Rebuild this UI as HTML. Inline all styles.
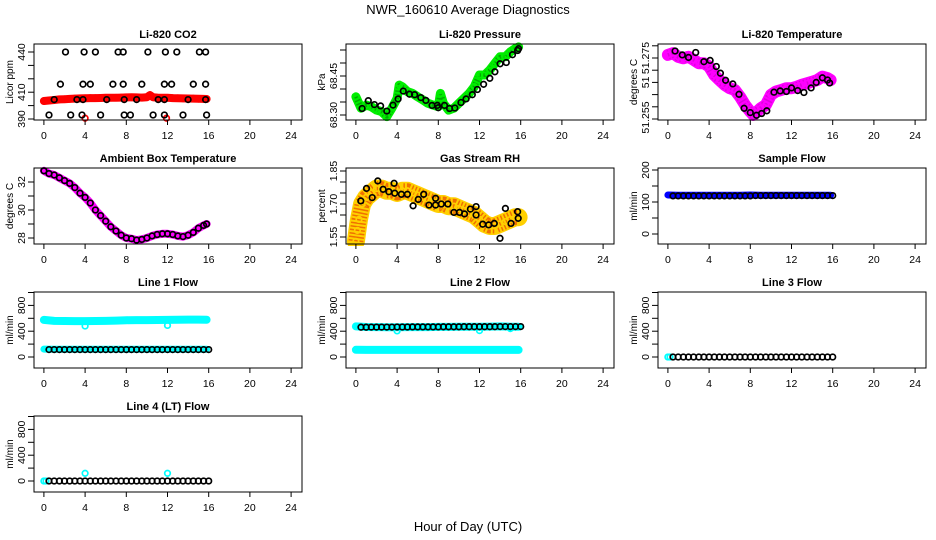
<!DOCTYPE html>
<html><head><meta charset="utf-8"><style>
html,body{margin:0;padding:0;background:#fff;}
svg{display:block;font-family:"Liberation Sans",Arial,sans-serif;}
</style></head><body>
<svg id="chart" width="936" height="540" viewBox="0 0 936 540" xmlns="http://www.w3.org/2000/svg">
<text x="468" y="14" text-anchor="middle" font-size="13">NWR_160610  Average Diagnostics</text>
<text x="468" y="531" text-anchor="middle" font-size="13">Hour of Day (UTC)</text>
</svg>
<script>
// ---------- data ----------
const xTickLabels = [0,4,8,12,16,20,24];
// CO2
const co2RedT = [0,0.5,1,1.5,2,2.5,3,3.5,4,4.5,5,5.5,6,6.5,7,7.5,8,8.5,9,9.5,10,10.3,10.6,11,11.5,12,12.5,13,13.5,14,14.5,15,15.5,15.8];
const co2RedV = [403.4,403.8,404.2,404.6,404.8,405,405.2,405.4,405.5,405.6,405.6,405.7,405.8,405.8,405.9,406,406.1,406.2,406.1,406,406.3,407.8,406.2,406,405.8,405.8,405.6,405.5,405.4,405.3,405.2,405.1,405,404.9];
const co2RedOutT = [4.0,11.9];
const co2RedOutV = [390.6,390.6];
const co2BlackT = [2.1,3.9,5.0,7.2,7.7,10.1,11.8,12.9,15.1,15.7, 1.6,3.8,4.5,6.7,7.7,9.5,11.7,12.4,14.5,15.7, 1.0,3.2,3.8,6.1,7.8,9.0,11.1,11.7,14.0,15.7, 0.5,2.6,3.7,5.5,7.8,8.4,10.6,11.7,13.5,15.8];
const co2BlackV = [440,440,440,440,440,440,440,440,440,440, 416,416,416,416,416,416,416,416,416,416, 404.5,404.5,404.5,404.5,404.5,404.5,404.5,404.5,404.5,404.5, 393,393,393,393,393,393,393,393,393,393];
// Pressure
const presT = [0,0.5,1,1.5,2,2.5,3,3.5,4,4.2,4.5,5,5.5,6,6.5,7,7.5,8,8.2,8.5,9,9.5,10,10.5,11,11.5,12,12.5,13,13.5,14,14.5,15,15.5,15.8];
const presV = [68.370,68.326,68.338,68.332,68.319,68.313,68.294,68.326,68.364,68.415,68.409,68.390,68.383,68.370,68.358,68.345,68.338,68.332,68.383,68.345,68.319,68.326,68.345,68.364,68.383,68.409,68.454,68.454,68.473,68.499,68.524,68.524,68.543,68.556,68.562];
const presBlackT = [0.6,1.2,1.8,2.4,3.0,3.6,4.1,4.6,5.2,5.7,6.3,6.8,7.4,7.9,8.0,8.6,9.1,9.6,10.2,10.7,11.3,11.8,12.4,13.0,13.5,14.0,14.6,15.2,15.7,15.8];
const presBlackV = [68.325,68.355,68.340,68.335,68.315,68.338,68.362,68.392,68.380,68.378,68.367,68.356,68.337,68.337,68.328,68.337,68.325,68.327,68.348,68.362,68.378,68.398,68.418,68.441,68.466,68.497,68.502,68.532,68.548,68.555];
// Temperature
const tempT = [0,0.5,1,1.5,2,2.5,3,3.5,4,4.5,5,5.5,6,6.5,7,7.5,8,8.3,8.5,9,9.5,10,10.5,11,11.5,12,12.5,13,13.5,14,14.5,15,15.5,15.8];
const tempV = [51.2760,51.2766,51.2754,51.2749,51.2754,51.2744,51.2733,51.2733,51.2722,51.2694,51.2678,51.2662,51.2651,51.2645,51.2623,51.2596,51.2574,51.2563,51.2569,51.2585,51.2596,51.2629,51.2640,51.2645,51.2651,51.2651,51.2656,51.2662,51.2667,51.2672,51.2678,51.2689,51.2684,51.2678];
const tempBlackT = [0.7,1.4,2.0,2.7,3.5,4.1,4.7,5.1,5.6,6.3,6.9,7.4,8.0,8.6,9.1,9.6,10.3,10.9,11.5,12.0,12.6,13.2,13.9,14.4,15.0,15.5,15.7];
const tempBlackV = [51.2773,51.2760,51.2752,51.2768,51.2738,51.2742,51.2722,51.2700,51.2677,51.2665,51.2631,51.2585,51.2571,51.2562,51.2568,51.2577,51.2638,51.2642,51.2640,51.2652,51.2643,51.2637,51.2652,51.2670,51.2685,51.2678,51.2668];
// Ambient
const ambT = [0,0.5,1,1.5,2,2.5,3,3.5,4,4.5,5,5.5,6,6.5,7,7.5,8,8.5,9,9.5,10,10.5,11,11.5,12,12.5,13,13.5,14,14.5,15,15.5,15.8];
const ambV = [32.8,32.6,32.5,32.3,32.1,31.9,31.6,31.2,30.9,30.5,30.0,29.6,29.2,28.8,28.5,28.2,28.0,27.95,27.85,27.9,28.0,28.15,28.25,28.3,28.3,28.25,28.15,28.1,28.2,28.4,28.7,28.9,29.0];
// RH
const rhT = [0,0.15,0.3,0.6,1,1.5,2,2.5,3,3.5,4,4.5,5,5.5,6,6.5,7,7.5,8,8.5,9,9.5,10,10.5,11,11.5,12,12.5,13,13.5,14,14.5,15,15.5,15.8];
const rhV = [1.53,1.58,1.63,1.70,1.73,1.75,1.77,1.77,1.76,1.76,1.75,1.76,1.76,1.75,1.74,1.73,1.72,1.71,1.70,1.70,1.69,1.69,1.68,1.67,1.66,1.65,1.63,1.61,1.60,1.60,1.61,1.62,1.63,1.64,1.64];
const rhBlackT = [0.48,1.03,1.58,2.13,2.64,3.19,3.71,3.77,4.42,5.0,5.55,6.06,6.58,7.09,7.74,7.74,8.29,8.93,9.51,10.06,10.54,11.12,11.67,11.67,12.31,12.89,13.44,13.99,14.51,15.06,15.70,15.76];
const rhBlackV = [1.714,1.771,1.729,1.805,1.767,1.756,1.794,1.749,1.744,1.744,1.692,1.721,1.744,1.695,1.695,1.726,1.700,1.700,1.662,1.662,1.655,1.677,1.688,1.650,1.608,1.605,1.612,1.544,1.680,1.612,1.665,1.635];
// Flows
const flowBandT = [0,1,2,3,4,5,6,7,8,9,10,11,12,13,14,15,15.8];
const flowBlackT = [0.5,1,1.5,2,2.5,3,3.5,4,4.5,5,5.5,6,6.5,7,7.5,8,8.5,9,9.5,10,10.5,11,11.5,12,12.5,13,13.5,14,14.5,15,15.5,16];
const sampleBlueV = [122,121,121,121,121,121,121,121,122,121,121,121,121,121,121,121,121];
const sampleBlackV = [119,119,119,119,119,119,119,119,119,119,119,119,119,119,119,119,120,120,120,120,120,120,120,120,120,120,120,120,120,120,120,120];
const line1CyanHiV = [575,560,558,556,556,558,560,565,570,572,572,574,575,578,580,580,578];
const line1CyanLoV = [122,120,120,120,120,120,120,120,120,120,120,120,120,120,120,120,120];
const line1BlackV = [115,115,115,115,115,115,115,115,115,115,115,115,115,115,115,115,115,115,115,115,115,115,115,115,115,115,115,115,115,115,115,115];
const line1OutT = [4.0,12.0];
const line1OutV = [480,490];
const line2CyanHiV = [475,465,463,462,462,463,463,464,466,467,468,468,470,472,474,470,468];
const line2CyanLoV = [112,110,110,110,110,110,110,110,110,110,110,110,110,110,110,110,110];
const line2BlackV = [462,462,463,463,464,464,464,465,465,465,466,466,466,466,467,467,468,468,468,468,469,469,469,470,470,470,470,471,471,471,472,472];
const line2OutT = [4.0,12.0,15.0];
const line2OutV = [405,410,440];
const line3CyanT = [0,0.2];
const line3CyanV = [0,0];
const line3BlackV = [0,0,0,0,0,0,0,0,0,0,0,0,0,0,0,0,0,0,0,0,0,0,0,0,0,0,0,0,0,0,0,0];
const line4CyanT = [0,0.2,4.0,12.0];
const line4CyanV = [0,0,120,120];
const line4BlackV = [0,0,0,0,0,0,0,0,0,0,0,0,0,0,0,0,0,0,0,0,0,0,0,0,0,0,0,0,0,0,0,0];

// ---------- drawing ----------
const NS = "http://www.w3.org/2000/svg";
const svg = document.getElementById('chart');
const rowTops = [44,168,292,416];
const BOX_W = 268, BOX_H = 76;
function mk(tag, attrs, parent){ const e=document.createElementNS(NS,tag); for(const k in attrs) e.setAttribute(k,attrs[k]); (parent||svg).appendChild(e); return e; }

function panel(cfg){
  const left = 34 + 312*cfg.col, top = rowTops[cfg.row];
  const g = mk('g',{});
  
  
  const xs = h => left + 9.9 + h*10.3;
  const ys = v => top + cfg.y0 - (v - cfg.v0)*cfg.k;
  const clipId = 'clip-' + cfg.name;
  const cp = mk('clipPath',{id:clipId}, g);
  mk('rect',{x:left-2,y:top-4,width:BOX_W+4,height:BOX_H+6}, cp);
  const plot = mk('g',{'clip-path':'url(#'+clipId+')'}, g);
  
  
  cfg.series.forEach(s => {
    const sg = mk('g',{}, plot);
    
    
    if (s.band) {
      const pts = s.t.map((t,i)=> xs(t).toFixed(1)+','+ys(s.v[i]).toFixed(1)).join(' ');
      mk('polyline',{points:pts,fill:'none',stroke:s.color,'stroke-width':s.band,'stroke-linejoin':'round','stroke-linecap':'round'}, sg);
      if (s.dots) mk('polyline',{points:pts,fill:'none',stroke:s.dots,'stroke-width':s.band-3,'stroke-dasharray':'1.5 2','stroke-linejoin':'round'}, sg);
    }
    if (s.circles !== false) {
      s.t.forEach((t,i)=>{
        const c = mk('circle',{cx:xs(t).toFixed(1),cy:ys(s.v[i]).toFixed(1),r:s.r||2.8,fill:'none',stroke:s.color,'stroke-width':s.sw||1.7}, sg);
        
        
      });
    }
  });
  const box = mk('rect',{x:left,y:top,width:BOX_W,height:BOX_H,fill:'none',stroke:'#000','stroke-width':1}, g);
  
  
  const xa = mk('g',{}, g);
  
  
  xTickLabels.forEach(h=>{
    mk('line',{x1:xs(h),x2:xs(h),y1:top+BOX_H,y2:top+BOX_H+5,stroke:'#000'}, xa);
    const tx = mk('text',{x:xs(h),y:top+BOX_H+19,'text-anchor':'middle','font-size':10.5}, xa);
    tx.textContent = h;
    
    
  });
  const ya = mk('g',{}, g);
  
  
  cfg.ticks.forEach(v=>{
    const y = ys(v);
    if (y < top-1 || y > top+BOX_H+1) return;
    mk('line',{x1:left-6,x2:left,y1:y,y2:y,stroke:'#000'}, ya);
  });
  cfg.labels.forEach((lab,i)=>{
    const y = ys(cfg.labelVals[i]);
    const tx = mk('text',{x:0,y:0,'text-anchor':'middle','font-size':10.5,transform:'translate('+(left-9)+','+y.toFixed(1)+') rotate(-90)'}, ya);
    tx.textContent = lab;
    
    
  });
  const yl = mk('text',{x:0,y:0,'text-anchor':'middle','font-size':10,transform:'translate('+(left-21)+','+(top+BOX_H/2)+') rotate(-90)'}, g);
  yl.textContent = cfg.ylab;
  
  
  const ti = mk('text',{x:left+BOX_W/2,y:top-6,'text-anchor':'middle','font-size':11,'font-weight':'bold'}, g);
  ti.textContent = cfg.title;
  
  
}

const flowTicks = [0,200,400,600,800,1000];
const flowLabels = ['0','400','800'];
const flowLabelVals = [0,400,800];

panel({name:'co2',col:0,row:0,title:'Li-820 CO2',ylab:'Licor ppm',v0:390,y0:75,k:1.34,
  ticks:[390,400,410,420,430,440,450],labels:['390','410','440'],labelVals:[390,410,440],
  series:[
    {name:'co2-red',t:co2RedT,v:co2RedV,color:'#ff0000',band:8,circles:true,r:3},
    {name:'co2-red-outliers',t:co2RedOutT,v:co2RedOutV,color:'#ff0000'},
    {name:'co2-black',t:co2BlackT,v:co2BlackV,color:'#000'}]});
panel({name:'pressure',col:1,row:0,title:'Li-820 Pressure',ylab:'kPa',v0:68.30,y0:71,k:260,
  ticks:[68.30,68.35,68.40,68.45,68.50,68.55],labels:['68.30','68.45'],labelVals:[68.30,68.45],
  series:[
    {name:'pressure-green',t:presT,v:presV,color:'#00ee00',band:9,dots:'#00aa00',circles:true},
    {name:'pressure-black',t:presBlackT,v:presBlackV,color:'#000'}]});
panel({name:'temperature',col:2,row:0,title:'Li-820 Temperature',ylab:'degrees C',v0:51.255,y0:75,k:3050,
  ticks:[51.255,51.259,51.263,51.267,51.271,51.275,51.279],labels:['51.255','51','51.275'],labelVals:[51.2555,51.267,51.275],
  series:[
    {name:'temperature-magenta',t:tempT,v:tempV,color:'#ff00ff',band:12,dots:'#dd00dd',circles:true},
    {name:'temperature-black',t:tempBlackT,v:tempBlackV,color:'#000'}]});
panel({name:'ambient',col:0,row:1,title:'Ambient Box Temperature',ylab:'degrees C',v0:28,y0:70,k:14,
  ticks:[28,29,30,31,32],labels:['28','30','32'],labelVals:[28,30,32],
  series:[
    {name:'ambient-magenta',t:ambT,v:ambV,color:'#ff00ff',band:8,circles:false},
    {name:'ambient-black',t:ambT,v:ambV,color:'#000'}]});
panel({name:'rh',col:1,row:1,title:'Gas Stream RH',ylab:'percent',v0:1.55,y0:69,k:220,
  ticks:[1.55,1.60,1.65,1.70,1.75,1.80,1.85],labels:['1.55','1.70','1.85'],labelVals:[1.55,1.70,1.85],
  series:[
    {name:'rh-orange',t:rhT,v:rhV,color:'#ffd000',band:18,dots:'#f07000',circles:true},
    {name:'rh-black',t:rhBlackT,v:rhBlackV,color:'#000'}]});
panel({name:'sample-flow',col:2,row:1,title:'Sample Flow',ylab:'ml/min',v0:0,y0:66,k:0.32,
  ticks:[0,50,100,150,200],labels:['0','100','200'],labelVals:[0,100,200],
  series:[
    {name:'sample-blue',t:flowBandT,v:sampleBlueV,color:'#0000ff',band:7,circles:false},
    {name:'sample-black',t:flowBlackT,v:sampleBlackV,color:'#000'}]});
panel({name:'line1-flow',col:0,row:2,title:'Line 1 Flow',ylab:'ml/min',v0:0,y0:65,k:0.0645,
  ticks:flowTicks,labels:flowLabels,labelVals:flowLabelVals,
  series:[
    {name:'line1-cyan-high',t:flowBandT,v:line1CyanHiV,color:'#00ffff',band:8,circles:false},
    {name:'line1-cyan-outliers',t:line1OutT,v:line1OutV,color:'#00ffff'},
    {name:'line1-cyan-low',t:flowBandT,v:line1CyanLoV,color:'#00ffff',band:7,circles:false},
    {name:'line1-black',t:flowBlackT,v:line1BlackV,color:'#000'}]});
panel({name:'line2-flow',col:1,row:2,title:'Line 2 Flow',ylab:'ml/min',v0:0,y0:65,k:0.0645,
  ticks:flowTicks,labels:flowLabels,labelVals:flowLabelVals,
  series:[
    {name:'line2-cyan-high',t:flowBandT,v:line2CyanHiV,color:'#00ffff',band:8,circles:false},
    {name:'line2-cyan-outliers',t:line2OutT,v:line2OutV,color:'#00ffff'},
    {name:'line2-cyan-low',t:flowBandT,v:line2CyanLoV,color:'#00ffff',band:8,circles:false},
    {name:'line2-black',t:flowBlackT,v:line2BlackV,color:'#000'}]});
panel({name:'line3-flow',col:2,row:2,title:'Line 3 Flow',ylab:'ml/min',v0:0,y0:65,k:0.0645,
  ticks:flowTicks,labels:flowLabels,labelVals:flowLabelVals,
  series:[
    {name:'line3-cyan',t:line3CyanT,v:line3CyanV,color:'#00ffff'},
    {name:'line3-black',t:flowBlackT,v:line3BlackV,color:'#000'}]});
panel({name:'line4-flow',col:0,row:3,title:'Line 4 (LT) Flow',ylab:'ml/min',v0:0,y0:65,k:0.0645,
  ticks:flowTicks,labels:flowLabels,labelVals:flowLabelVals,
  series:[
    {name:'line4-cyan',t:line4CyanT,v:line4CyanV,color:'#00ffff'},
    {name:'line4-black',t:flowBlackT,v:line4BlackV,color:'#000'}]});
</script>
</body></html>
